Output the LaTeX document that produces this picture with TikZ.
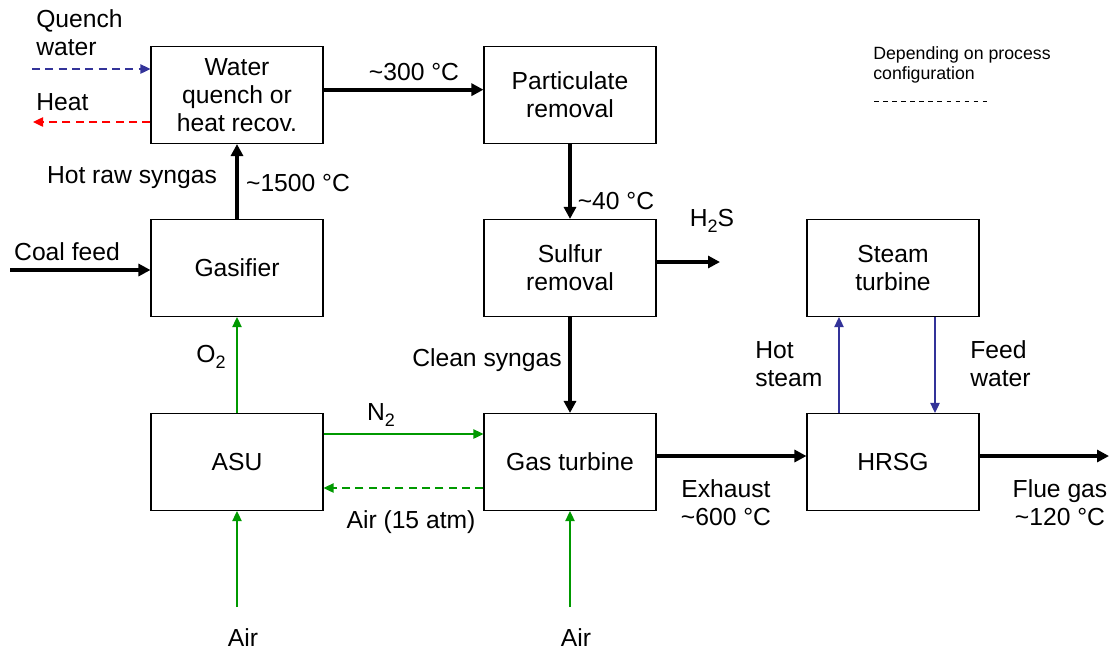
\documentclass[tikz,border=0pt]{standalone}
\usepackage{fontspec}
\setmainfont{Liberation Sans}
\usetikzlibrary{arrows.meta}
\definecolor{steamblue}{RGB}{51,51,153}
\definecolor{airgreen}{RGB}{0,153,0}
\newcommand{\lowsub}[1]{\raisebox{-0.45ex}{\fontsize{13.5}{13.5}\selectfont #1}}

\begin{document}
\begin{tikzpicture}[x=0.75pt,y=-0.75pt,
    unit/.style={draw,line width=0.8pt,minimum width=129pt,minimum height=72.75pt,
      align=center,font=\fontsize{18.5}{21}\selectfont},
    lbl/.style={font=\fontsize{18.5}{21}\selectfont,inner sep=0pt},
    gasflow/.style={line width=3pt,-{Triangle[length=9pt,width=9pt]}},
    airflow/.style={airgreen,line width=1pt,-{Triangle[length=7.5pt,width=7pt]}},
    steamflow/.style={steamblue,line width=1pt,-{Triangle[length=7.5pt,width=7pt]}},
    optflow/.style={line width=1pt,dash pattern=on 6pt off 4pt,-{Triangle[length=7.5pt,width=7pt]}}]
  \useasboundingbox (0,0) rectangle (1110,651);

  \draw (237,95) node[unit] (quench) {Water\\quench or\\heat recov.};
  \draw (570,95) node[unit] (partic) {Particulate\\removal};
  \draw (237,268) node[unit] (gasifier) {Gasifier};
  \draw (570,268) node[unit] (sulfur) {Sulfur\\removal};
  \draw (893,268) node[unit] (steamtb) {Steam\\turbine};
  \draw (237,462) node[unit] (asu) {ASU};
  \draw (570,462) node[unit] (gasturb) {Gas turbine};
  \draw (893,462) node[unit] (hrsg) {HRSG};

  \coordinate (qwater) at (32,69);
  \coordinate (heatout) at (33,122);
  \coordinate (coal) at (10,270);
  \coordinate (hts) at (720,262);
  \coordinate (airA) at (237,607);
  \coordinate (airB) at (570,607);
  \coordinate (flue) at (1109,456);

  \draw[optflow,steamblue] (qwater) -- (qwater-|quench.west);
  \draw[optflow,red] (heatout-|quench.west) -- (heatout);
  \draw[gasflow] ([yshift=4pt]quench.east) -- ([yshift=4pt]partic.west);
  \draw[gasflow] (partic) -- (sulfur);
  \draw[gasflow] (hts-|sulfur.east) -- (hts);
  \draw[gasflow] (gasifier) -- (quench);
  \draw[gasflow] (coal) -- (coal-|gasifier.west);
  \draw[gasflow] (sulfur) -- (gasturb);
  \draw[gasflow] ([yshift=4.5pt]gasturb.east) -- ([yshift=4.5pt]hrsg.west);
  \draw[gasflow] (flue-|hrsg.east) -- (flue);
  \draw[airflow] (asu) -- (gasifier);
  \draw[airflow] ([yshift=21pt]asu.east) -- ([yshift=21pt]gasturb.west);
  \draw[optflow,airgreen] ([yshift=-19.5pt]gasturb.west) -- ([yshift=-19.5pt]asu.east);
  \draw[airflow] (airA) -- (asu);
  \draw[airflow] (airB) -- (gasturb);
  \draw[steamflow] ([xshift=-40.5pt]hrsg.north) -- ([xshift=-40.5pt]steamtb.south);
  \draw[steamflow] ([xshift=31.5pt]steamtb.south) -- ([xshift=31.5pt]hrsg.north);

  \draw (36,33) node[lbl,anchor=west,align=left] (qwlbl) {Quench\\water};
  \draw (36,102) node[lbl,anchor=west] (heatlbl) {Heat};
  \draw (414,72) node[lbl] (t300) {\textasciitilde300 °C};
  \draw (132,178) node[lbl] (rawlbl) {Hot raw syngas};
  \draw (298,183) node[lbl] (t1500) {\textasciitilde1500 °C};
  \draw (616,201) node[lbl] (t40) {\textasciitilde40 °C};
  \draw (712,221) node[lbl] (htslbl) {H\lowsub{2}S};
  \draw (67,252) node[lbl] (coallbl) {Coal feed};
  \draw (211,357) node[lbl] (olbl) {O\lowsub{2}};
  \draw (381,415) node[lbl] (nlbl) {N\lowsub{2}};
  \draw (487,360) node[lbl] (cleanlbl) {Clean syngas};
  \draw (411,522) node[lbl] (airplbl) {Air (15 atm)};
  \draw (726,503) node[lbl,align=center] (exhlbl) {Exhaust\\\textasciitilde600 °C};
  \draw (1060,503) node[lbl,align=center] (fluelbl) {Flue gas\\\textasciitilde120 °C};
  \draw (755,364) node[lbl,anchor=west,align=left] (hslbl) {Hot\\steam};
  \draw (970,364) node[lbl,anchor=west,align=left] (fwlbl) {Feed\\water};
  \draw (243,638) node[lbl] (airAlbl) {Air};
  \draw (576,638) node[lbl] (airBlbl) {Air};

  \draw (873,65) node[anchor=west,align=left,inner sep=0pt,
    font=\fontsize{13.3}{15}\selectfont] (legend) {Depending on process\\configuration};
  \coordinate (dashA) at (874,101);
  \coordinate (dashB) at (990,101);
  \draw[line width=0.6pt,dash pattern=on 3.5pt off 3.3pt] (dashA) -- (dashB);
\end{tikzpicture}
\end{document}
